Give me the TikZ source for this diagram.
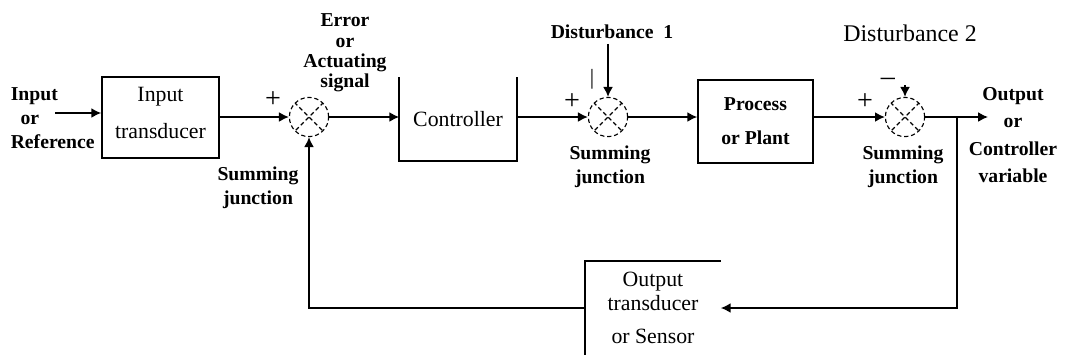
\documentclass[tikz,border=0pt]{standalone}
\usepackage{fontspec}
\setmainfont{Liberation Serif}
\usetikzlibrary{positioning, arrows.meta, calc}

\begin{document}
\begin{tikzpicture}[
        x=0.025cm, y=-0.025cm,
        line width=1.1pt,
        >={Latex[length=7pt, width=7pt]},
        txt/.style={font=\fontsize{15.5}{18}\selectfont, align=center, inner sep=0pt},
        btxt/.style={txt, font=\fontsize{14}{17}\selectfont\bfseries},
        blk/.style={draw, txt, minimum width=2.9cm, minimum height=2.05cm},
        openblk/.style={txt, minimum width=2.9cm, minimum height=2.05cm},
        sumj/.style={circle, draw, densely dashed, line width=0.8pt, minimum size=0.98cm, inner sep=0pt,
            path picture={\draw[densely dashed, line width=0.8pt]
                (path picture bounding box.north west) -- (path picture bounding box.south east)
                (path picture bounding box.north east) -- (path picture bounding box.south west);}},
        sgn/.style={font=\fontsize{20}{20}\selectfont, inner sep=0pt}
    ]

    \useasboundingbox (0,0) rectangle (1069,358);

    % Input side
    \node[btxt, align=left, anchor=west] (inref) at (10,118) {Input\\ \ \ or\\Reference};
    \coordinate (inpt) at (55,113);
    \node[blk, minimum width=2.925cm, minimum height=2.025cm] (intrans) at (160.5,117.5) {Input\\[8pt]transducer\\[-11pt]\mbox{}};
    \draw[->] (inpt) -- (inpt -| intrans.west);

    % First summing junction
    \node[sumj] (sum1) at (309,117) {};
    \node[sgn] (plus1) at (273,100) {+};
    \node[btxt] (sj1) at (258,188) {Summing\\junction};
    \node[btxt, font=\fontsize{14}{14.5}\selectfont\bfseries] (err) at (345,53) {Error\\or\\Actuating\\signal};
    \draw[->] (intrans.east |- sum1.west) -- (sum1.west);

    % Controller (open top)
    \node[openblk] (ctrl) at (458,119) {Controller};
    \draw (ctrl.north west) -- (ctrl.south west) -- (ctrl.south east) -- (ctrl.north east);
    \draw[->] (sum1.east) -- (sum1.east -| ctrl.west);

    % Second summing junction and Disturbance 1
    \node[sumj] (sum2) at (608,117) {};
    \node[sgn] (plus2) at (572,102) {+};
    \node[txt] (tick2) at (592,79) {|};
    \node[btxt] (sj2) at (610,167) {Summing\\junction};
    \node[btxt] (dist1) at (612,32) {Disturbance\ \ 1};
    \draw[->] (ctrl.east |- sum2.west) -- (sum2.west);
    \draw[->] ([yshift=-3pt]dist1.south -| sum2.north) -- (sum2.north);

    % Process
    \node[blk, font=\fontsize{14}{17}\selectfont\bfseries, minimum width=2.875cm, minimum height=2.075cm] (plant) at (755.5,121.5) {Process\\[7pt]or Plant};
    \draw[->] (sum2.east) -- (sum2.east -| plant.west);

    % Third summing junction and Disturbance 2
    \node[sumj] (sum3) at (905,117) {};
    \node[sgn] (plus3) at (865,102) {+};
    \node[sgn] (minus3) at (888,82) {–};
    \node[btxt] (sj3) at (903,167) {Summing\\junction};
    \node[txt, font=\fontsize{17}{20}\selectfont] (dist2) at (910,33) {Disturbance 2};
    \coordinate (d2in) at (905,85);
    \draw[->] (plant.east |- sum3.west) -- (sum3.west);
    \draw[->] (d2in) -- (sum3.north);

    % Output
    \coordinate (brch) at (957,117);
    \coordinate (outend) at (988,117);
    \node[btxt, font=\fontsize{14}{19.5}\selectfont\bfseries] (outv) at (1013,135) {Output\\or\\Controller\\variable};
    \draw[->] (sum3.east) -- (outend);

    % Feedback path with sensor (top and left edges only)
    \node[txt, minimum width=3.35cm, minimum height=2.3cm] (sensor) at (653,308) {Output\\[-1pt]transducer\\[6pt]or Sensor};
    \draw (sensor.north east) -- (sensor.north west) -- (sensor.south west);
    \draw[->] (brch) |- (sensor.east);
    \draw[->] (sensor.west) -| (sum1.south);

\end{tikzpicture}
\end{document}
